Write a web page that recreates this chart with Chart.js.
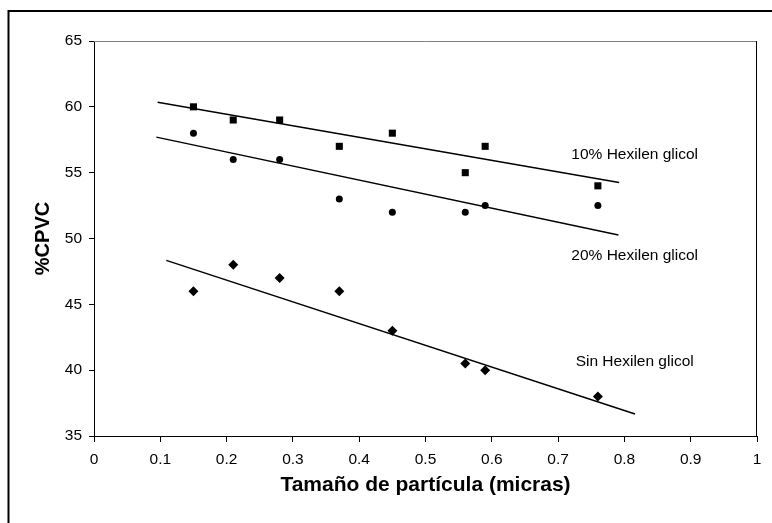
<!DOCTYPE html>
<html>
<head>
<meta charset="utf-8">
<script src="https://cdn.jsdelivr.net/npm/chart.js@4/dist/chart.umd.min.js"></script>
<style>
  html, body { margin: 0; padding: 0; background: #fff; }
  #wrap { width: 772px; height: 523px; }
</style>
</head>
<body>
<div id="wrap"><canvas id="chart" width="772" height="523"></canvas></div>
<script>
// tamaño de partícula (micras) y %CPVC para cada mezcla
const particleSize = [0.15, 0.21, 0.28, 0.37, 0.45, 0.56, 0.59, 0.76];
const cpvc10 = [60, 59, 59, 57, 58, 55, 57, 54];
const cpvc20 = [58, 56, 56, 53, 52, 52, 52.5, 52.5];
const cpvcSin = [46, 48, 47, 46, 43, 40.5, 40, 38];

// extremos de las rectas de tendencia
const trend10X = [0.096, 0.792];
const trend10Y = [60.34, 54.26];
const trend20X = [0.094, 0.791];
const trend20Y = [57.70, 50.26];
const trendSinX = [0.109, 0.816];
const trendSinY = [48.34, 36.67];

const seriesNames = ['10% Hexilen glicol', '20% Hexilen glicol', 'Sin Hexilen glicol'];
const xTitle = 'Tamaño de partícula (micras)';
const yTitle = '%CPVC';

const FONT = '"Liberation Sans", Arial, sans-serif';

const toPoints = (xs, ys) => xs.map((x, i) => ({ x: x, y: ys[i] }));

const markers = (data, style, radius) => ({
  type: 'scatter',
  data: data,
  pointStyle: style,
  pointRadius: radius,
  pointBackgroundColor: '#000',
  pointBorderColor: '#000',
  pointBorderWidth: 0,
  showLine: false
});

const trend = (data) => ({
  type: 'line',
  data: data,
  borderColor: '#000',
  borderWidth: 1.5,
  pointRadius: 0,
  fill: false,
  tension: 0
});

// marco exterior, borde del área de trazado y nombres de las series
const decorations = {
  id: 'decorations',
  beforeDraw(chart) {
    const ctx = chart.ctx;
    ctx.save();
    ctx.fillStyle = '#fff';
    ctx.fillRect(0, 0, chart.width, chart.height);
    ctx.strokeStyle = '#000';
    ctx.lineWidth = 2;
    ctx.strokeRect(8.5, 11, chart.width + 20, chart.height + 20);
    ctx.restore();
  },
  afterDraw(chart) {
    const { ctx, chartArea: a, scales } = chart;
    ctx.save();
    ctx.lineWidth = 1;
    ctx.strokeStyle = '#808080';
    ctx.beginPath();
    ctx.moveTo(a.left, a.top + 0.5);
    ctx.lineTo(a.right, a.top + 0.5);
    ctx.stroke();
    ctx.strokeStyle = '#000';
    ctx.beginPath();
    ctx.moveTo(a.right - 0.5, a.top);
    ctx.lineTo(a.right - 0.5, a.bottom);
    ctx.stroke();

    const opts = chart.options.plugins.decorations;
    ctx.fillStyle = '#000';
    ctx.font = opts.fontSize + 'px ' + FONT;
    ctx.textAlign = 'center';
    ctx.textBaseline = 'middle';
    opts.labels.forEach(l => {
      ctx.fillText(l.text, scales.x.getPixelForValue(l.x), scales.y.getPixelForValue(l.y));
    });
    ctx.restore();
  }
};

new Chart(document.getElementById('chart'), {
  type: 'scatter',
  data: {
    datasets: [
      markers(toPoints(particleSize, cpvc10), 'rect', 5),
      markers(toPoints(particleSize, cpvc20), 'circle', 3.5),
      markers(toPoints(particleSize, cpvcSin), 'rectRot', 5),
      trend(toPoints(trend10X, trend10Y)),
      trend(toPoints(trend20X, trend20Y)),
      trend(toPoints(trendSinX, trendSinY))
    ]
  },
  options: {
    responsive: false,
    animation: false,
    events: [],
    layout: { padding: { left: 0, top: 41, right: 15, bottom: 0 }, autoPadding: false },
    plugins: {
      legend: { display: false },
      tooltip: { enabled: false },
      decorations: {
        fontSize: 15.5,
        labels: [
          { text: seriesNames[0], x: 0.8155, y: 56.39 },
          { text: seriesNames[1], x: 0.8155, y: 48.67 },
          { text: seriesNames[2], x: 0.8155, y: 40.62 }
        ]
      }
    },
    scales: {
      x: {
        type: 'linear',
        min: 0,
        max: 1,
        afterFit: s => { s.height = 87; },
        ticks: {
          stepSize: 0.1,
          color: '#000',
          padding: 8,
          maxRotation: 0,
          callback: v => String(Math.round(v * 10) / 10),
          font: { family: FONT, size: 15.5 }
        },
        grid: { drawOnChartArea: false, drawTicks: true, tickLength: 6, color: '#000' },
        border: { color: '#000', width: 1 },
        title: {
          display: true,
          text: xTitle,
          color: '#000',
          padding: { top: 0, bottom: 25 },
          font: { family: FONT, size: 21, weight: 'bold' }
        }
      },
      y: {
        type: 'linear',
        min: 35,
        max: 65,
        afterFit: s => { s.width = 94; },
        ticks: {
          stepSize: 5,
          color: '#000',
          padding: 7,
          font: { family: FONT, size: 15.5 }
        },
        grid: { drawOnChartArea: false, drawTicks: true, tickLength: 5, color: '#000' },
        border: { color: '#000', width: 1 },
        title: {
          display: true,
          text: yTitle,
          color: '#000',
          padding: { top: 31, bottom: 0 },
          font: { family: FONT, size: 20, weight: 'bold' }
        }
      }
    }
  },
  plugins: [decorations]
});
</script>
</body>
</html>
